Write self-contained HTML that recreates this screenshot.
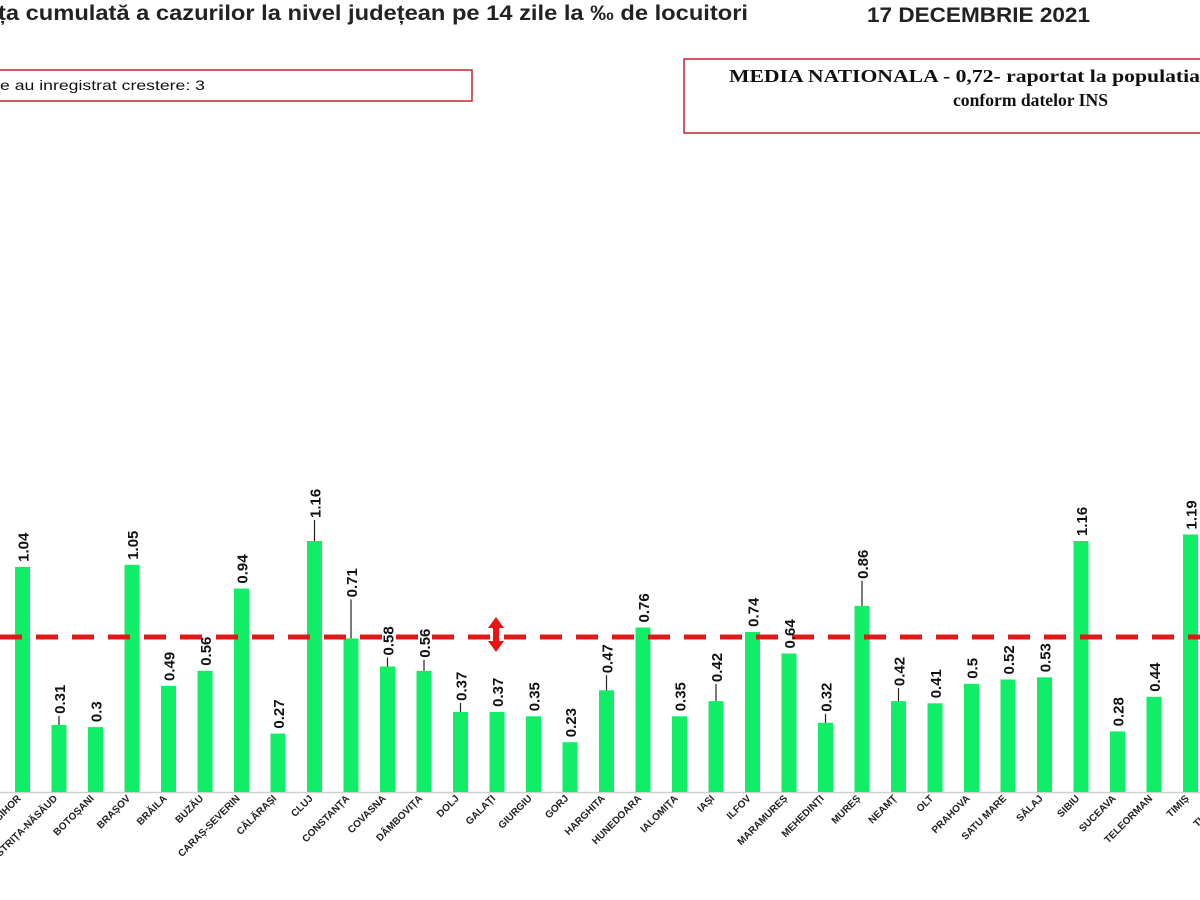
<!DOCTYPE html>
<html><head><meta charset="utf-8"><style>
html,body{margin:0;padding:0;background:#fff;width:1200px;height:900px;overflow:hidden}
svg{display:block}
</style></head><body>
<svg width="1200" height="900" xmlns="http://www.w3.org/2000/svg">
<rect width="1200" height="900" fill="#fff"/>
<text x="-2" y="20" textLength="750" lengthAdjust="spacingAndGlyphs" font-family="Liberation Sans, sans-serif" font-weight="bold" font-size="21" fill="#222">ța cumulată a cazurilor la nivel județean pe 14 zile la ‰ de locuitori</text>
<text x="867" y="22" textLength="223" lengthAdjust="spacingAndGlyphs" font-family="Liberation Sans, sans-serif" font-weight="bold" font-size="21" fill="#222">17 DECEMBRIE 2021</text>
<rect x="-5" y="70" width="477" height="31" fill="none" stroke="#c0272d" stroke-width="1.5"/>
<text x="0" y="90" textLength="205" lengthAdjust="spacingAndGlyphs" font-family="Liberation Sans, sans-serif" font-size="14" fill="#111">e au inregistrat crestere: 3</text>
<rect x="684" y="59" width="530" height="74" fill="none" stroke="#c0272d" stroke-width="1.5"/>
<text x="729" y="82" textLength="471" lengthAdjust="spacingAndGlyphs" font-family="Liberation Serif, serif" font-weight="bold" font-size="18" fill="#111">MEDIA NATIONALA - 0,72-  raportat la populatia</text>
<text x="953" y="106" textLength="155" lengthAdjust="spacingAndGlyphs" font-family="Liberation Serif, serif" font-weight="bold" font-size="18" fill="#111">conform datelor INS</text>
<line x1="0" y1="792.5" x2="1200" y2="792.5" stroke="#d0d0d0" stroke-width="1.5"/>
<g fill="#10ee66">
<rect x="15" y="566.9" width="15" height="225.1"/>
<rect x="51.5" y="724.9" width="15" height="67.1"/>
<rect x="88" y="727.1" width="15" height="64.9"/>
<rect x="124.5" y="564.8" width="15" height="227.2"/>
<rect x="161" y="686" width="15" height="106"/>
<rect x="197.5" y="670.8" width="15" height="121.2"/>
<rect x="234" y="588.6" width="15" height="203.4"/>
<rect x="270.5" y="733.6" width="15" height="58.4"/>
<rect x="307" y="541" width="15" height="251"/>
<rect x="343.5" y="638.4" width="15" height="153.6"/>
<rect x="380" y="666.5" width="15" height="125.5"/>
<rect x="416.5" y="670.8" width="15" height="121.2"/>
<rect x="453" y="711.9" width="15" height="80.1"/>
<rect x="489.5" y="711.9" width="15" height="80.1"/>
<rect x="526" y="716.3" width="15" height="75.7"/>
<rect x="562.5" y="742.2" width="15" height="49.8"/>
<rect x="599" y="690.3" width="15" height="101.7"/>
<rect x="635.5" y="627.5" width="15" height="164.5"/>
<rect x="672" y="716.3" width="15" height="75.7"/>
<rect x="708.5" y="701.1" width="15" height="90.9"/>
<rect x="745" y="631.9" width="15" height="160.1"/>
<rect x="781.5" y="653.5" width="15" height="138.5"/>
<rect x="818" y="722.8" width="15" height="69.2"/>
<rect x="854.5" y="605.9" width="15" height="186.1"/>
<rect x="891" y="701.1" width="15" height="90.9"/>
<rect x="927.5" y="703.3" width="15" height="88.7"/>
<rect x="964" y="683.8" width="15" height="108.2"/>
<rect x="1000.5" y="679.5" width="15" height="112.5"/>
<rect x="1037" y="677.3" width="15" height="114.7"/>
<rect x="1073.5" y="541" width="15" height="251"/>
<rect x="1110" y="731.4" width="15" height="60.6"/>
<rect x="1146.5" y="696.8" width="15" height="95.2"/>
<rect x="1183" y="534.5" width="15" height="257.5"/>
</g>
<g stroke="#222" stroke-width="1.2">
<line x1="59" y1="724.9" x2="59" y2="715.9"/>
<line x1="314.5" y1="541" x2="314.5" y2="520"/>
<line x1="351" y1="638.4" x2="351" y2="599.4"/>
<line x1="387.5" y1="666.5" x2="387.5" y2="657.5"/>
<line x1="424" y1="670.8" x2="424" y2="659.8"/>
<line x1="460.5" y1="711.9" x2="460.5" y2="702.9"/>
<line x1="606.5" y1="690.3" x2="606.5" y2="675.3"/>
<line x1="716" y1="701.1" x2="716" y2="684.1"/>
<line x1="825.5" y1="722.8" x2="825.5" y2="713.8"/>
<line x1="862" y1="605.9" x2="862" y2="580.9"/>
<line x1="898.5" y1="701.1" x2="898.5" y2="688.1"/>
</g>
<line x1="0" y1="637" x2="1200" y2="637" stroke="#e01818" stroke-width="5" stroke-dasharray="22,14"/>
<g fill="#ee1111"><rect x="493" y="626" width="6" height="16"/><polygon points="496,617 488,628 504,628"/><polygon points="496,652 488,641 504,641"/></g>
<g font-family="Liberation Sans, sans-serif" font-weight="bold" font-size="15" fill="#111">
<text transform="translate(28.5,561.9) rotate(-90)">1.04</text>
<text transform="translate(65,713.9) rotate(-90)">0.31</text>
<text transform="translate(101.5,722.1) rotate(-90)">0.3</text>
<text transform="translate(138,559.8) rotate(-90)">1.05</text>
<text transform="translate(174.5,681) rotate(-90)">0.49</text>
<text transform="translate(211,665.8) rotate(-90)">0.56</text>
<text transform="translate(247.5,583.6) rotate(-90)">0.94</text>
<text transform="translate(284,728.6) rotate(-90)">0.27</text>
<text transform="translate(320.5,518) rotate(-90)">1.16</text>
<text transform="translate(357,597.4) rotate(-90)">0.71</text>
<text transform="translate(393.5,655.5) rotate(-90)">0.58</text>
<text transform="translate(430,657.8) rotate(-90)">0.56</text>
<text transform="translate(466.5,700.9) rotate(-90)">0.37</text>
<text transform="translate(503,706.9) rotate(-90)">0.37</text>
<text transform="translate(539.5,711.3) rotate(-90)">0.35</text>
<text transform="translate(576,737.2) rotate(-90)">0.23</text>
<text transform="translate(612.5,673.3) rotate(-90)">0.47</text>
<text transform="translate(649,622.5) rotate(-90)">0.76</text>
<text transform="translate(685.5,711.3) rotate(-90)">0.35</text>
<text transform="translate(722,682.1) rotate(-90)">0.42</text>
<text transform="translate(758.5,626.9) rotate(-90)">0.74</text>
<text transform="translate(795,648.5) rotate(-90)">0.64</text>
<text transform="translate(831.5,711.8) rotate(-90)">0.32</text>
<text transform="translate(868,578.9) rotate(-90)">0.86</text>
<text transform="translate(904.5,686.1) rotate(-90)">0.42</text>
<text transform="translate(941,698.3) rotate(-90)">0.41</text>
<text transform="translate(977.5,678.8) rotate(-90)">0.5</text>
<text transform="translate(1014,674.5) rotate(-90)">0.52</text>
<text transform="translate(1050.5,672.3) rotate(-90)">0.53</text>
<text transform="translate(1087,536) rotate(-90)">1.16</text>
<text transform="translate(1123.5,726.4) rotate(-90)">0.28</text>
<text transform="translate(1160,691.8) rotate(-90)">0.44</text>
<text transform="translate(1196.5,529.5) rotate(-90)">1.19</text>
</g>
<g font-family="Liberation Sans, sans-serif" font-weight="bold" font-size="10" fill="#222" text-anchor="end">
<text transform="translate(21.5,799) rotate(-45)">BIHOR</text>
<text transform="translate(58,799) rotate(-45)">BISTRIȚA-NĂSĂUD</text>
<text transform="translate(94.5,799) rotate(-45)">BOTOȘANI</text>
<text transform="translate(131,799) rotate(-45)">BRAȘOV</text>
<text transform="translate(167.5,799) rotate(-45)">BRĂILA</text>
<text transform="translate(204,799) rotate(-45)">BUZĂU</text>
<text transform="translate(240.5,799) rotate(-45)">CARAȘ-SEVERIN</text>
<text transform="translate(277,799) rotate(-45)">CĂLĂRAȘI</text>
<text transform="translate(313.5,799) rotate(-45)">CLUJ</text>
<text transform="translate(350,799) rotate(-45)">CONSTANȚA</text>
<text transform="translate(386.5,799) rotate(-45)">COVASNA</text>
<text transform="translate(423,799) rotate(-45)">DÂMBOVIȚA</text>
<text transform="translate(459.5,799) rotate(-45)">DOLJ</text>
<text transform="translate(496,799) rotate(-45)">GALAȚI</text>
<text transform="translate(532.5,799) rotate(-45)">GIURGIU</text>
<text transform="translate(569,799) rotate(-45)">GORJ</text>
<text transform="translate(605.5,799) rotate(-45)">HARGHITA</text>
<text transform="translate(642,799) rotate(-45)">HUNEDOARA</text>
<text transform="translate(678.5,799) rotate(-45)">IALOMIȚA</text>
<text transform="translate(715,799) rotate(-45)">IAȘI</text>
<text transform="translate(751.5,799) rotate(-45)">ILFOV</text>
<text transform="translate(788,799) rotate(-45)">MARAMUREȘ</text>
<text transform="translate(824.5,799) rotate(-45)">MEHEDINȚI</text>
<text transform="translate(861,799) rotate(-45)">MUREȘ</text>
<text transform="translate(897.5,799) rotate(-45)">NEAMȚ</text>
<text transform="translate(934,799) rotate(-45)">OLT</text>
<text transform="translate(970.5,799) rotate(-45)">PRAHOVA</text>
<text transform="translate(1007,799) rotate(-45)">SATU MARE</text>
<text transform="translate(1043.5,799) rotate(-45)">SĂLAJ</text>
<text transform="translate(1080,799) rotate(-45)">SIBIU</text>
<text transform="translate(1116.5,799) rotate(-45)">SUCEAVA</text>
<text transform="translate(1153,799) rotate(-45)">TELEORMAN</text>
<text transform="translate(1189.5,799) rotate(-45)">TIMIȘ</text>
<text transform="translate(1226,799) rotate(-45)">TULCEA</text>
</g>
</svg>
</body></html>
